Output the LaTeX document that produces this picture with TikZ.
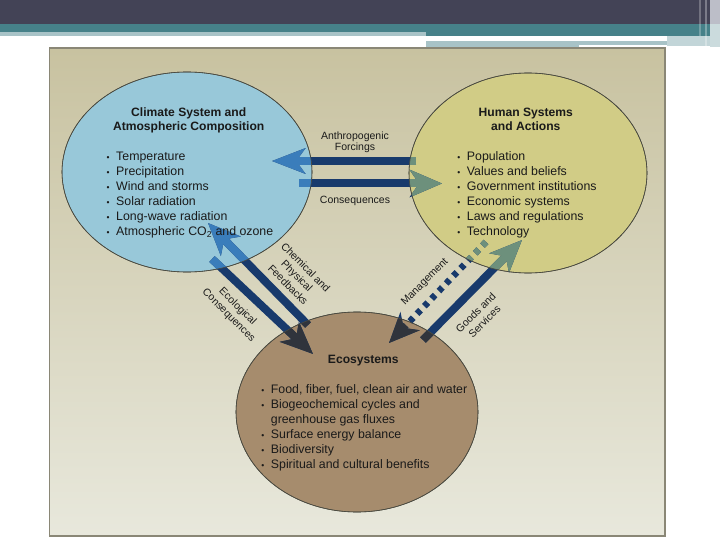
\documentclass[tikz,border=0pt]{standalone}
\usepackage{fontspec}
\setmainfont{Liberation Sans}
\usetikzlibrary{shapes.geometric,arrows.meta}
\definecolor{hdark}{HTML}{434356}
\definecolor{hteal}{HTML}{468189}
\definecolor{hlight}{HTML}{A8C3C7}
\definecolor{hgrey}{HTML}{BCBEC8}
\definecolor{pantop}{HTML}{C8C2A0}
\definecolor{panbot}{HTML}{E8E8DC}
\definecolor{pborder}{HTML}{8A8776}
\definecolor{climfill}{HTML}{98C8D9}
\definecolor{humfill}{HTML}{D1CC86}
\definecolor{ecofill}{HTML}{A68C6D}
\definecolor{edgec}{HTML}{4A4A40}
\definecolor{navy}{HTML}{183A6C}
\definecolor{blueT}{HTML}{3A7DBB}
\definecolor{yelT}{HTML}{6D907C}
\definecolor{brT}{HTML}{30343C}
\definecolor{txt}{HTML}{1A1A1A}
\newcommand\bulitem{\makebox[0pt][r]{{\fontsize{8.5}{8.5}\selectfont\textbullet}\hspace{6.5pt}}}
\newcommand\arrowset[1]{%
  \draw[shaft,#1,-{Stealth[length=33pt,width=25pt,inset=9pt]}] (a1s) -- (a1e);
  \draw[shaft,#1,-{Stealth[length=32pt,width=27pt,inset=9pt]}] (a2s) -- (a2e);
  \draw[shaft,#1,-{Stealth[length=32pt,width=27pt,inset=9pt]}] (a3s) -- (a3e);
  \draw[shaft,#1,-{Stealth[length=32pt,width=27pt,inset=9pt]}] (a4s) -- (a4e);
  \draw[shaft,#1,line width=6.5pt,dash pattern=on 5pt off 5.5pt,-{Stealth[length=30pt,width=26pt,inset=9pt]}] (a5s) -- (a5e);
  \draw[shaft,#1,-{Stealth[length=32pt,width=27pt,inset=9pt]}] (a6s) -- (a6e);
}
\begin{document}
\begin{tikzpicture}[x=1pt,y=-1pt,
  ell/.style={ellipse,inner sep=0pt,outer sep=0pt,draw=edgec,line width=0.6pt},
  shaft/.style={line width=8pt},
  ttl/.style={font=\fontsize{12.1}{14}\selectfont\bfseries,anchor=base,inner sep=0pt,text=txt},
  itm/.style={font=\fontsize{12.35}{15}\selectfont,anchor=base west,inner sep=0pt,text=txt},
  lbl/.style={font=\fontsize{10.5}{12.5}\selectfont,align=center,inner sep=0pt,text=txt}]
\useasboundingbox (0,0) rectangle (720,540);
% header
\fill[white] (0,0) rectangle (720,540);
\fill[hdark] (0,0) rectangle (720,24);
\fill[hteal] (0,24) rectangle (720,32);
\fill[hteal] (426,32) rectangle (720,36);
\fill[hlight] (0,32) rectangle (426,36);
\fill[hlight] (426,41) rectangle (579,47.5);
\fill[hlight] (579,41) rectangle (667,45.5);
\fill[hlight!70!white] (667,36) rectangle (710,46);
\fill[white,opacity=0.25] (699,0) rectangle (701,36);
\fill[white,opacity=0.3] (705,0) rectangle (707,46);
\fill[hgrey] (710,0) rectangle (720,24);
\fill[hlight!60!white] (710,24) rectangle (720,47);
% panel
\shade[top color=pantop,bottom color=panbot] (49.5,48) rectangle (665,536);
\draw[pborder,line width=1.5pt] (49.5,48) rectangle (665,536);
% ellipses
\node[ell,fill=climfill,minimum width=250pt,minimum height=200pt] (clim) at (187,172) {};
\node[ell,fill=humfill,minimum width=238pt,minimum height=200pt] (hum) at (528,173) {};
\node[ell,fill=ecofill,minimum width=242pt,minimum height=200pt] (eco) at (357,412) {};
% arrow end points
\coordinate (a1s) at (416,161);   \coordinate (a1e) at (272,161);
\coordinate (a2s) at (299,183.5); \coordinate (a2e) at (442,183.5);
\coordinate (a3s) at (308,325);   \coordinate (a3e) at (208,223);
\coordinate (a4s) at (212,259);   \coordinate (a4e) at (313,354);
\coordinate (a5s) at (486,242);   \coordinate (a5e) at (389,343);
\coordinate (a6s) at (423,340);   \coordinate (a6e) at (522,240);
\arrowset{navy}
\begin{scope}\clip (clim.center) ellipse [x radius=125,y radius=100]; \arrowset{blueT}\end{scope}
\begin{scope}\clip (hum.center) ellipse [x radius=119,y radius=100]; \arrowset{yelT}\end{scope}
\begin{scope}\clip (eco.center) ellipse [x radius=121,y radius=100]; \arrowset{brT}\end{scope}
\draw[edgec,line width=0.6pt] (clim.center) ellipse [x radius=125,y radius=100];
\draw[edgec,line width=0.6pt] (hum.center) ellipse [x radius=119,y radius=100];
\draw[edgec,line width=0.6pt] (eco.center) ellipse [x radius=121,y radius=100];
% titles
\node[ttl] (ct1) at (188.7,116.5) {Climate System and};
\node[ttl] (ct2) at (188.7,130.5) {Atmospheric Composition};
\node[ttl] (ht1) at (525.8,116.5) {Human Systems};
\node[ttl] (ht2) at (525.8,130.5) {and Actions};
\node[ttl] (et1) at (363.3,363.3) {Ecosystems};
% lists
\foreach \t [count=\i from 0] in {Temperature,Precipitation,Wind and storms,Solar radiation,Long-wave radiation,{Atmospheric CO\textsubscript{2} and ozone}}
  \node[itm] (cl\i) at (116,{161+15*\i}) {\bulitem\t};
\foreach \t [count=\i from 0] in {Population,Values and beliefs,Government institutions,Economic systems,Laws and regulations,Technology}
  \node[itm] (hl\i) at (466.7,{161+15*\i}) {\bulitem\t};
\node[itm] (el0) at (270.7,393.3) {\bulitem Food, fiber, fuel, clean air and water};
\node[itm] (el1) at (270.7,408.3) {\bulitem Biogeochemical cycles and};
\node[itm] (el2) at (270.7,423.3) {greenhouse gas fluxes};
\node[itm] (el3) at (270.7,438.3) {\bulitem Surface energy balance};
\node[itm] (el4) at (270.7,453.3) {\bulitem Biodiversity};
\node[itm] (el5) at (270.7,468.3) {\bulitem Spiritual and cultural benefits};
% connector labels
\node[lbl,anchor=base] (l1a) at (355,139.3) {Anthropogenic};
\node[lbl,anchor=base] (l1b) at (355,151) {Forcings};
\node[lbl,anchor=base] (l2) at (355,203.3) {Consequences};
\node[lbl,rotate=-45] (l3) at (297,276) {Chemical and\\Physical\\Feedbacks};
\node[lbl,rotate=-45] (l4) at (233,311) {Ecological\\Consequences};
\node[lbl,rotate=45] (l5) at (425,282) {Management};
\node[lbl,rotate=45] (l6) at (480,317) {Goods and\\Services};
\end{tikzpicture}
\end{document}
